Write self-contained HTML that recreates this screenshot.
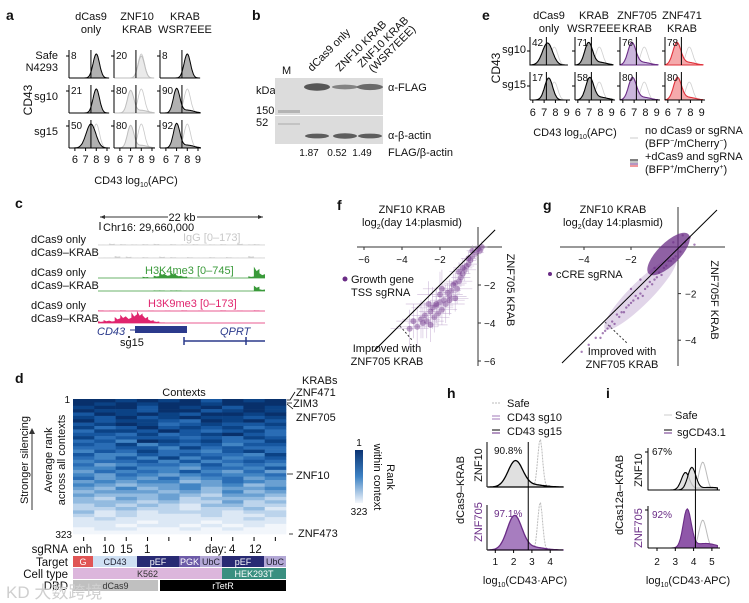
<!DOCTYPE html>
<html><head><meta charset="utf-8"><style>
html,body{margin:0;padding:0;background:#fff}
svg{display:block;font-family:"Liberation Sans","Noto Sans CJK SC",sans-serif}
</style></head><body>
<svg id="fig" width="749" height="603" viewBox="0 0 749 603">
<g font-size="11" fill="#111">
<text x="6" y="20" font-weight="bold" font-size="14">a</text>
<text x="252" y="20" font-weight="bold" font-size="14">b</text>
<text x="482" y="20" font-weight="bold" font-size="14">e</text>
<text x="15" y="208" font-weight="bold" font-size="14">c</text>
<text x="337" y="210" font-weight="bold" font-size="14">f</text>
<text x="543" y="210" font-weight="bold" font-size="14">g</text>
<text x="15" y="383" font-weight="bold" font-size="14">d</text>
<text x="447" y="398" font-weight="bold" font-size="14">h</text>
<text x="606" y="398" font-weight="bold" font-size="14">i</text>

<g text-anchor="middle">
<text x="91" y="20">dCas9</text><text x="91" y="33">only</text>
<text x="137" y="20">ZNF10</text><text x="137" y="33">KRAB</text>
<text x="185" y="20">KRAB</text><text x="185" y="33">WSR7EEE</text>
</g>
<g text-anchor="end">
<text x="58" y="59">Safe</text><text x="58" y="71">N4293</text>
<text x="58" y="100">sg10</text><text x="58" y="135">sg15</text>
</g>
<text transform="translate(32,100) rotate(-90)" text-anchor="middle" font-size="12">CD43</text>
<text x="136" y="184" text-anchor="middle">CD43 log<tspan font-size="7" dy="3">10</tspan><tspan dy="-3">(APC)</tspan></text>
<g id="ga"></g>

<g>
<text transform="translate(312,72) rotate(-45)">dCas9 only</text>
<text transform="translate(340,72) rotate(-45)">ZNF10 KRAB</text>
<text transform="translate(362,68) rotate(-45)">ZNF10 KRAB</text>
<text transform="translate(373,73) rotate(-45)">(WSR7EEE)</text>
<text x="282" y="74">M</text>
<text x="256" y="94">kDa</text><text x="256" y="114">150</text><text x="256" y="126">52</text>
<rect x="275" y="78" width="108" height="37" fill="#dcdcdc"/>
<rect x="275" y="116" width="108" height="28" fill="#dcdcdc"/>
<g id="gbands"></g>
<text x="388" y="91">α-FLAG</text>
<text x="388" y="139">α-β-actin</text>
<text x="388" y="156">FLAG/β-actin</text>
<g id="gratio" text-anchor="middle" font-size="10"></g>
</g>

<g text-anchor="middle">
<text x="549" y="19">dCas9</text><text x="549" y="32">only</text>
<text x="594" y="19">KRAB</text><text x="594" y="32">WSR7EEE</text>
<text x="637" y="19">ZNF705</text><text x="637" y="32">KRAB</text>
<text x="682" y="19">ZNF471</text><text x="682" y="32">KRAB</text>
</g>
<text x="526" y="53" text-anchor="end">sg10</text>
<text x="526" y="88" text-anchor="end">sg15</text>
<text transform="translate(500,68) rotate(-90)" text-anchor="middle" font-size="12">CD43</text>
<text x="575" y="136" text-anchor="middle">CD43 log<tspan font-size="7" dy="3">10</tspan><tspan dy="-3">(APC)</tspan></text>
<g>
<line x1="630" y1="138" x2="638" y2="138" stroke="#ccc"/>
<text x="645" y="134">no dCas9 or sgRNA</text>
<text x="645" y="147">(BFP<tspan font-size="7" dy="-4">−</tspan><tspan dy="4">/mCherry</tspan><tspan font-size="7" dy="-4">−</tspan><tspan dy="4">)</tspan></text>
<line x1="630" y1="160" x2="638" y2="160" stroke="#000"/><line x1="630" y1="162" x2="638" y2="162" stroke="#888"/>
<line x1="630" y1="164" x2="638" y2="164" stroke="#6a2c86"/><line x1="630" y1="166" x2="638" y2="166" stroke="#e0303a"/>
<text x="645" y="160">+dCas9 and sgRNA</text>
<text x="645" y="173">(BFP<tspan font-size="7" dy="-4">+</tspan><tspan dy="4">/mCherry</tspan><tspan font-size="7" dy="-4">+</tspan><tspan dy="4">)</tspan></text>
</g>
<g id="ge"></g>

<g>
<line x1="100" y1="217" x2="168" y2="217" stroke="#333"/><line x1="197" y1="217" x2="263" y2="217" stroke="#333"/>
<path d="M100 217 l5 -2 v4z M263 217 l-5 -2 v4z" fill="#333"/>
<text x="182" y="221" text-anchor="middle">22 kb</text>
<line x1="100" y1="222" x2="100" y2="230" stroke="#000"/>
<text x="103" y="231">Chr16: 29,660,000</text>
<g font-size="11">
<text x="31" y="243">dCas9 only</text><text x="31" y="256">dCas9–KRAB</text>
<text x="31" y="276">dCas9 only</text><text x="31" y="289">dCas9–KRAB</text>
<text x="31" y="309">dCas9 only</text><text x="31" y="322">dCas9–KRAB</text>
</g>
<text x="183" y="241" fill="#c8c8c8">IgG [0–173]</text>
<text x="145" y="274" fill="#3a9a3a">H3K4me3 [0–745]</text>
<text x="148" y="307" fill="#e0256e">H3K9me3 [0–173]</text>
<g id="gtracks"></g>
<text x="97" y="335" font-style="italic" fill="#2b3a8c">CD43</text>
<line x1="130" y1="330" x2="136" y2="330" stroke="#2b3a8c"/>
<rect x="135" y="326" width="52" height="7" fill="#2b3a8c"/>
<text x="120" y="346">sg15</text>
<circle cx="129" cy="337" r="1" fill="#000"/>
<text x="220" y="335" font-style="italic" fill="#2b3a8c">QPRT</text>
<line x1="184" y1="341" x2="265" y2="341" stroke="#2b3a8c" stroke-width="1.5"/>
<line x1="184" y1="337" x2="184" y2="345" stroke="#2b3a8c" stroke-width="1.5"/>
<line x1="246" y1="337" x2="246" y2="345" stroke="#2b3a8c" stroke-width="1.5"/>
</g>

<g text-anchor="middle">
<text x="412" y="213">ZNF10 KRAB</text>
<text x="412" y="226">log<tspan font-size="7" dy="3">2</tspan><tspan dy="-3">(day 14:plasmid)</tspan></text>
</g>
<text transform="translate(507,290) rotate(90)" text-anchor="middle">ZNF705 KRAB</text>
<circle cx="345" cy="279" r="2.5" fill="#6a2c86"/>
<text x="351" y="283">Growth gene</text>
<text x="351" y="296">TSS sgRNA</text>
<text x="387" y="352" text-anchor="middle">Improved with</text>
<text x="387" y="365" text-anchor="middle">ZNF705 KRAB</text>
<line x1="400" y1="326" x2="412" y2="340" stroke="#333" stroke-dasharray="2,2"/>
<g id="gf"></g>

<g text-anchor="middle">
<text x="613" y="213">ZNF10 KRAB</text>
<text x="613" y="226">log<tspan font-size="7" dy="3">2</tspan><tspan dy="-3">(day 14:plasmid)</tspan></text>
</g>
<text transform="translate(711,300) rotate(90)" text-anchor="middle">ZNF705F KRAB</text>
<circle cx="550" cy="274" r="2" fill="#6a2c86"/>
<text x="556" y="278">cCRE sgRNA</text>
<text x="622" y="355" text-anchor="middle">Improved with</text>
<text x="622" y="368" text-anchor="middle">ZNF705 KRAB</text>
<line x1="605" y1="322" x2="627" y2="343" stroke="#333" stroke-dasharray="2,2"/>
<g id="gg"></g>

<text x="184" y="396" text-anchor="middle">Contexts</text>
<text x="70" y="403" text-anchor="end" font-size="10">1</text>
<text x="72" y="538" text-anchor="end" font-size="10">323</text>
<text transform="translate(28,460) rotate(-90)" text-anchor="middle">Stronger silencing</text>
<line x1="32" y1="510" x2="32" y2="432" stroke="#333"/><path d="M32 428 l-3 6 h6z" fill="#333"/>
<text transform="translate(52,460) rotate(-90)" text-anchor="middle">Average rank</text>
<text transform="translate(65,460) rotate(-90)" text-anchor="middle">across all contexts</text>
<g id="gd"></g>
<g font-size="11">
<text x="302" y="384">KRABs</text>
<text x="296" y="396">ZNF471</text><text x="293" y="407">ZIM3</text>
<text x="296" y="421">ZNF705</text><text x="296" y="479">ZNF10</text><text x="298" y="537">ZNF473</text>
<path d="M287 400 L290 400 L295 392 M287 403 L292 403 M287 404 L293 409 M287 474 L293 474 M289 534 L293 534" stroke="#000" fill="none" stroke-width="0.8"/>
</g>
<defs><linearGradient id="cb" x1="0" y1="0" x2="0" y2="1"><stop offset="0" stop-color="#0b3473"/><stop offset="0.5" stop-color="#3d82c4"/><stop offset="1" stop-color="#f3f6fb"/></linearGradient></defs>
<rect x="355" y="450" width="8" height="53" fill="url(#cb)"/>
<text x="359" y="446" text-anchor="middle" font-size="10">1</text>
<text x="359" y="515" text-anchor="middle" font-size="10">323</text>
<text transform="translate(387,477) rotate(90)" text-anchor="middle" font-size="11">Rank</text>
<text transform="translate(374,477) rotate(90)" text-anchor="middle" font-size="11">within context</text>
<g font-size="11.5">
<text x="68" y="553" text-anchor="end">sgRNA</text>
<text x="73" y="553">enh</text><text x="102" y="553">10</text><text x="120" y="553">15</text><text x="144" y="553">1</text>
<text x="205" y="553">day:</text><text x="229" y="553">4</text><text x="249" y="553">12</text>
<text x="68" y="566" text-anchor="end">Target</text>
<text x="68" y="578" text-anchor="end">Cell type</text>
<text x="68" y="590" text-anchor="end">DBD</text>
</g>
<g id="gann" font-size="9" text-anchor="middle"></g>

<g>
<line x1="492" y1="403" x2="500" y2="403" stroke="#bbb" stroke-dasharray="2,1"/>
<text x="507" y="407">Safe</text>
<line x1="492" y1="416" x2="500" y2="416" stroke="#a07ab8"/><line x1="492" y1="419" x2="500" y2="419" stroke="#a07ab8"/>
<text x="507" y="421">CD43 sg10</text>
<line x1="492" y1="430" x2="500" y2="430" stroke="#000"/><line x1="492" y1="433" x2="500" y2="433" stroke="#6a2c86"/>
<text x="507" y="435">CD43 sg15</text>
</g>
<text transform="translate(464,490) rotate(-90)" text-anchor="middle">dCas9–KRAB</text>
<text transform="translate(482,465) rotate(-90)" text-anchor="middle">ZNF10</text>
<text transform="translate(482,522) rotate(-90)" text-anchor="middle" fill="#6a2c86">ZNF705</text>
<text x="494" y="454" font-size="10">90.8%</text>
<text x="494" y="517" font-size="10" fill="#6a2c86">97.1%</text>
<text x="525" y="584" text-anchor="middle">log<tspan font-size="7" dy="3">10</tspan><tspan dy="-3">(CD43·APC)</tspan></text>
<g id="gh"></g>

<g>
<line x1="664" y1="415" x2="672" y2="415" stroke="#ccc"/>
<text x="675" y="419">Safe</text>
<line x1="664" y1="430" x2="672" y2="430" stroke="#000"/><line x1="664" y1="433" x2="672" y2="433" stroke="#6a2c86"/>
<text x="677" y="436">sgCD43.1</text>
</g>
<text transform="translate(623,495) rotate(-90)" text-anchor="middle">dCas12a–KRAB</text>
<text transform="translate(642,470) rotate(-90)" text-anchor="middle">ZNF10</text>
<text transform="translate(642,528) rotate(-90)" text-anchor="middle" fill="#6a2c86">ZNF705</text>
<text x="652" y="455" font-size="10">67%</text>
<text x="652" y="518" font-size="10" fill="#6a2c86">92%</text>
<text x="688" y="584" text-anchor="middle">log<tspan font-size="7" dy="3">10</tspan><tspan dy="-3">(CD43·APC)</tspan></text>
<g id="gi"></g>

<text x="6" y="598" font-size="17" fill="#cfcfcf">KD 大数跨境</text>
</g>
</svg>
<script>
const aPct = [[8,20,8],[21,80,90],[50,80,92]];
const aMean = [[8,8,8],[8,7,7],[7.5,7,7]];
const aTicks = [6,7,8,9];
const bRatios = [1.87,0.52,1.49];
const bFlag = [1.0,0.45,0.75];
const bActin = [0.8,0.9,0.8];
const ePct = [[42,71,76,78],[17,58,80,80]];
const eMean = [[7.3,6.95,6.8,6.8],[7.4,7.05,6.85,6.85]];
const eTicks = [6,7,8,9];
const fx = [0.2,0.1,-0.1,-0.3,0.0,-0.5,-0.4,-0.7,-0.6,-0.9,-1.0,-0.8,-1.2,-1.1,-1.4,-1.3,-1.5,-1.6,-1.8,-1.7,-2.0,-1.9,-2.2,-2.1,-2.4,-2.3,-2.5,-2.6,-2.8,-2.7,-3.0,-2.9,-3.2,-3.4,-1.0,-1.5,-2.0,-2.5,-0.5,-3.6,-1.2,-2.2,-0.3,-0.8,-1.9];
const fy = [0.0,-0.2,-0.3,-0.5,-0.1,-0.9,-0.7,-1.2,-1.0,-1.6,-1.8,-1.4,-1.9,-2.2,-2.3,-2.0,-2.6,-2.4,-2.8,-3.0,-2.9,-3.3,-3.1,-3.5,-3.2,-3.7,-3.4,-3.0,-3.6,-3.9,-3.8,-4.0,-4.2,-3.9,-1.3,-2.8,-2.5,-4.1,-0.6,-4.3,-2.7,-3.0,-0.2,-1.1,-2.2];
const fErr = [0.3,0.2,0.4,0.3,0.2,0.5,0.3,0.6,0.4,0.5,0.7,0.4,0.6,0.8,0.5,0.6,0.9,0.5,0.7,1.0,0.6,0.8,0.9,0.7,1.1,0.8,0.6,1.2,0.7,0.9,1.0,0.8,1.1,0.9,0.5,0.8,1.2,0.9,0.4,1.0,0.7,0.9,0.3,0.5,1.0];
const fXTicks = [-6,-4,-2];
const fYTicks = [-2,-4,-6];
const gx = [0.3,0.1,-0.2,-0.4,-0.6,-0.8,-1.0,-1.2,-1.4,-1.6,-1.8,-2.0,-2.2,-2.4,-2.6,-2.8,-3.0,-3.2,-3.5,-3.8,-4.1,-0.3,-0.7,-1.1,-1.5,-1.9,-2.3,-2.7,-3.1,0.5,0.7,-0.1,-0.5,-0.9,-1.3,-1.7,-2.1,-2.5,-2.9,-3.3,-2.0,-1.0,0.2,-0.2,-1.6];
const gy = [0.2,-0.2,-0.5,-0.6,-0.9,-1.1,-1.4,-1.5,-1.8,-2.0,-2.1,-2.4,-2.6,-2.8,-2.9,-3.2,-3.5,-3.7,-3.9,-4.2,-4.5,-0.6,-1.2,-1.6,-2.1,-2.3,-2.8,-3.3,-3.6,0.4,0.1,-0.4,-0.8,-1.3,-1.7,-2.2,-2.5,-3.0,-3.4,-3.9,-1.8,-0.9,0.5,0.2,-1.4];
const gXTicks = [-4,-2];
const gYTicks = [-2,-4];
const heatRows = [
"0010102010","0101001000","1002010201","0112002101","2010120010","1202101121","0211230102","2101321221",
"1320212132","3112023213","2231321023","1322232312","3240121331","2314232422","3322413233","4231334213",
"2442323341","3424142432","4332424323","3543342434","4424453342","5343424535","4534543443","3545354354",
"5454465345","4565545465","5646546554","6555656465","5666567556","6756576667","6667677576","7676786677",
"7767787768","6878777877","7878887887","8788888878","8889889888","8898898989","9889989899","9999999999"];
const trackIgG1 = [0.1,0.05,0.3,0.1,0.2,0.1,0.15,0.1,0.2,0.1,0.25,0.1,0.1,0.2,0.1,0.15,0.1,0.2,0.1,0.1,0.15,0.1,0.2,0.1,0.1,0.3,0.1,0.15,0.2,0.1];
const trackIgG2 = [0.05,0.1,0.1,0.4,0.1,0.3,0.1,0.1,0.2,0.1,0.1,0.3,0.1,0.2,0.1,0.1,0.2,0.1,0.1,0.1,0.2,0.1,0.1,0.2,0.1,0.1,0.1,0.4,0.1,0.1];
const trackK4a = [0,0,0,0,0,0,0,0,0.2,0.1,0.4,0.9,0.6,1.0,0.5,0.3,0.1,0,0,0,0,0,0,0,0,0,0,0.3,1.9,0.8];
const trackK4b = [0,0,0,0,0,0,0,0,0,0,0.1,0.1,0,0.1,0.1,0,0,0,0,0,0,0,0,0,0,0,0,0,0.9,0.3];
const trackK9a = [0.1,0,0.05,0,0.1,0,0.05,0,0,0.05,0,0,0.05,0,0,0.1,0,0,0.05,0,0,0,0.1,0,0,0.05,0,0,0.1,0];
const trackK9b = [0.3,0.5,0.4,1.0,1.4,1.1,1.8,2.0,1.3,0.6,0.3,0.1,0,0,0,0,0,0,0,0,0,0,0,0,0,0,0,0,0,0];
const hTicks = [1,2,3,4];
const iTicks = [2,3,4,5];

const NS = "http://www.w3.org/2000/svg";
function mk(parent, tag, attrs){const e=document.createElementNS(NS,tag);for(const k in attrs)e.setAttribute(k,attrs[k]);parent.appendChild(e);return e;}
function curve(sx, y0, hpx, mean, sd, xmin, xmax, tail){
  let d=`M${sx(xmin)} ${y0}`;
  for(let v=xmin; v<=xmax+1e-9; v+=(xmax-xmin)/60){
    let g=Math.exp(-0.5*((v-mean)/sd)**2);
    if(tail) g+=tail*Math.exp(-0.5*((v-(mean+1.0))/0.6)**2);
    d+=` L${sx(v).toFixed(1)} ${(y0-g*hpx).toFixed(1)}`;
  }
  return d+` L${sx(xmax)} ${y0}Z`;
}

const ga=document.getElementById('ga');
const aColX=[69,114,160], aRowY=[78,113,148];
for(let c=0;c<3;c++){
  const sx=v=>aColX[c]+(v-5.45)*10.7;
  for(let r=0;r<3;r++){
    const y0=aRowY[r];
    const g=mk(ga,'g',{});
    
    
    mk(g,'path',{d:curve(sx,y0,24,8,0.3,5.45,9.2),fill:'none',stroke:'#c8c8c8','stroke-width':0.8});
    const light=c===1;
    mk(g,'path',{d:curve(sx,y0,light?22:24,aMean[r][c],r===2&&c===0?0.45:0.3,5.45,9.2,r>0&&c>0?0.12:0),fill:light?'#e8e8e8':'#a9a9a9',stroke:light?'#bdbdbd':'#000','stroke-width':1,'fill-opacity':0.9});
    mk(g,'line',{x1:sx(7.5),x2:sx(7.5),y1:y0-28,y2:y0,stroke:'#000','stroke-width':1});
    mk(g,'line',{x1:aColX[c],x2:aColX[c],y1:y0-28,y2:y0,stroke:'#000'});
    mk(g,'line',{x1:aColX[c]-3,x2:aColX[c],y1:y0-22,y2:y0-22,stroke:'#000'});
    const t=mk(g,'text',{x:aColX[c]+2,y:y0-19,'font-size':10});t.textContent=aPct[r][c];
  }
  mk(ga,'line',{x1:aColX[c],x2:aColX[c]+41,y1:148,y2:148,stroke:'#000'});
  aTicks.forEach(v=>{mk(ga,'line',{x1:sx(v),x2:sx(v),y1:148,y2:151,stroke:'#000'});
    const t=mk(ga,'text',{x:sx(v),y:163,'text-anchor':'middle'});t.textContent=v;});
}

const gb=document.getElementById('gbands'), gr=document.getElementById('gratio');
const laneX=[317,345,370];
mk(gb,'rect',{x:278,y:110,width:22,height:3,fill:'#999',opacity:0.6});
mk(gb,'rect',{x:278,y:123,width:22,height:2,fill:'#aaa',opacity:0.5});
laneX.forEach((x,i)=>{
  const b=mk(gb,'ellipse',{cx:x,cy:87,rx:13,ry:2.5*bFlag[i]+1.2,fill:'#333',opacity:0.3+0.5*bFlag[i]});
  
  
  const a=mk(gb,'ellipse',{cx:x,cy:136,rx:12,ry:3*bActin[i],fill:'#333',opacity:0.75});
  
  
  const t=mk(gr,'text',{x:x-8,y:156});t.textContent=bRatios[i].toFixed(2);
});

const ge=document.getElementById('ge');
const eColX=[530,575,620,665], eRowY=[65,100];
const eFill=['#a9a9a9','#a9a9a9','#cbb6dc','#f5a9ab'], eStroke=['#000','#000','#6a2c86','#e0303a'];
for(let c=0;c<4;c++){
  const sx=v=>eColX[c]+(v-5.75)*11.3;
  for(let r=0;r<2;r++){
    const y0=eRowY[r];
    const g=mk(ge,'g',{});
    
    
    mk(g,'path',{d:curve(sx,y0,18,7.9,0.3,5.75,9.1),fill:'none',stroke:'#cfcfcf','stroke-width':0.8});
    mk(g,'path',{d:curve(sx,y0,22,eMean[r][c],c===0&&r===0?0.45:0.35,5.75,9.1,c>0?0.12:0),fill:eFill[c],stroke:eStroke[c],'stroke-width':1.1});
    mk(g,'line',{x1:sx(7.2),x2:sx(7.2),y1:y0-28,y2:y0,stroke:'#000'});
    mk(g,'line',{x1:eColX[c],x2:eColX[c],y1:y0-28,y2:y0,stroke:'#000'});
    mk(g,'line',{x1:eColX[c]-3,x2:eColX[c],y1:y0-14,y2:y0-14,stroke:'#000'});
    const t=mk(g,'text',{x:eColX[c]+2,y:y0-19,'font-size':10});t.textContent=ePct[r][c];
  }
  mk(ge,'line',{x1:eColX[c],x2:eColX[c]+40,y1:100,y2:100,stroke:'#000'});
  eTicks.forEach(v=>{mk(ge,'line',{x1:sx(v),x2:sx(v),y1:100,y2:103,stroke:'#000'});
    const t=mk(ge,'text',{x:sx(v),y:116,'text-anchor':'middle'});t.textContent=v;});
}

const gt=document.getElementById('gtracks');
function track(arr,base,scale,color){
  const w=(265-98)/arr.length;
  let d=`M98 ${base}`;
  arr.forEach((v,i)=>{const x=98+i*w;d+=` L${x} ${base-v*scale} L${x+w*0.5} ${base-v*scale*0.6} L${x+w} ${base-v*scale*0.8}`;});
  d+=` L265 ${base}Z`;
  const p=mk(gt,'path',{d,fill:color,stroke:'none'});
  
  
  mk(gt,'line',{x1:98,x2:265,y1:base,y2:base,stroke:color,'stroke-width':0.8});
}
track(trackIgG1,245,5,'#cfcfcf');track(trackIgG2,258,5,'#cfcfcf');
track(trackK4a,278,6,'#3a9a3a');track(trackK4b,291,6,'#3a9a3a');
track(trackK9a,311,6,'#e0256e');track(trackK9b,323,6,'#e0256e');

const gf=document.getElementById('gf');
const fsx=v=>478+v*19, fsy=v=>247-v*19;
mk(gf,'line',{x1:357,x2:502,y1:247,y2:247,stroke:'#333'});
mk(gf,'line',{x1:478,x2:478,y1:227,y2:366,stroke:'#333'});
fXTicks.forEach(v=>{mk(gf,'line',{x1:fsx(v),x2:fsx(v),y1:247,y2:250,stroke:'#333'});const t=mk(gf,'text',{x:fsx(v),y:263,'text-anchor':'middle','font-size':10});t.textContent='−'+Math.abs(v);});
fYTicks.forEach(v=>{mk(gf,'line',{x1:478,x2:481,y1:fsy(v),y2:fsy(v),stroke:'#333'});const t=mk(gf,'text',{x:484,y:fsy(v)+4,'font-size':10});t.textContent='−'+Math.abs(v);});
fx.forEach((x,i)=>{
  const e=fErr[i];
  mk(gf,'line',{x1:fsx(x-e),x2:fsx(x+e),y1:fsy(fy[i]),y2:fsy(fy[i]),stroke:'#b89cc9','stroke-width':0.7,opacity:0.6});
  mk(gf,'line',{x1:fsx(x),x2:fsx(x),y1:fsy(fy[i]-e),y2:fsy(fy[i]+e),stroke:'#b89cc9','stroke-width':0.7,opacity:0.6});
  const c=mk(gf,'circle',{cx:fsx(x),cy:fsy(fy[i]),r:3,fill:'#6a2c86',opacity:0.45});
  
  
});
mk(gf,'line',{x1:fsx(-5.5),y1:fsy(-5.5),x2:fsx(0.9),y2:fsy(0.9),stroke:'#000'});

const gg=document.getElementById('gg');
const gsx=v=>678+v*23.5, gsy=v=>247-v*23.3;
mk(gg,'line',{x1:560,x2:725,y1:247,y2:247,stroke:'#333'});
mk(gg,'line',{x1:678,x2:678,y1:207,y2:366,stroke:'#333'});
gXTicks.forEach(v=>{mk(gg,'line',{x1:gsx(v),x2:gsx(v),y1:247,y2:250,stroke:'#333'});const t=mk(gg,'text',{x:gsx(v),y:263,'text-anchor':'middle','font-size':10});t.textContent='−'+Math.abs(v);});
gYTicks.forEach(v=>{mk(gg,'line',{x1:678,x2:681,y1:gsy(v),y2:gsy(v),stroke:'#333'});const t=mk(gg,'text',{x:685,y:gsy(v)+4,'font-size':10});t.textContent='−'+Math.abs(v);});
mk(gg,'ellipse',{cx:gsx(-1.6),cy:gsy(-2.0),rx:50,ry:11,fill:'#a886c0',opacity:0.35,transform:`rotate(-45 ${gsx(-1.6)} ${gsy(-2.0)})`});
mk(gg,'ellipse',{cx:gsx(-0.4),cy:gsy(-0.3),rx:28,ry:11,fill:'#6a2c86',opacity:0.75,transform:`rotate(-45 ${gsx(-0.4)} ${gsy(-0.3)})`});
gx.forEach((x,i)=>{
  const c=mk(gg,'circle',{cx:gsx(x),cy:gsy(gy[i]),r:1.2,fill:'#6a2c86',opacity:0.6});
  
  
});
mk(gg,'line',{x1:562,y1:363,x2:717,y2:210,stroke:'#000'});

const gd=document.getElementById('gd');
const hx0=73,hx1=286,hy0=399,hy1=534;
const cw=(hx1-hx0)/10, rh=(hy1-hy0)/heatRows.length;
const pal=['#08306b','#0b4285','#1757a0','#2a6db5','#4285c4','#6aa0d2','#93bbe0','#bcd4ec','#dce8f5','#f2f6fb'];
heatRows.forEach((row,r)=>{for(let c=0;c<10;c++){
  const cell=mk(gd,'rect',{x:hx0+c*cw,y:hy0+r*rh,width:cw+0.3,height:rh+0.3,fill:pal[+row[c]]});
  
  
}});
for(let c=0;c<10;c++) mk(gd,'line',{x1:hx0+(c+0.5)*cw,x2:hx0+(c+0.5)*cw,y1:537,y2:541,stroke:'#000'});
const gann=document.getElementById('gann');
const ann=[
 [556,[[73,93,'#e05555','G','#fff'],[93,137,'#cfe0f3','CD43','#223'],[137,179,'#282a73','pEF','#fff'],[179,200,'#6d5ba8','PGK','#fff'],[200,222,'#b3a8d6','UbC','#223'],[222,264,'#282a73','pEF','#fff'],[264,286,'#b3a8d6','UbC','#223']]],
 [568,[[73,222,'#dcb6dc','K562','#333'],[222,286,'#3a8f80','HEK293T','#fff']]],
 [580,[[73,158,'#c0c0c0','dCas9','#333'],[160,286,'#000','rTetR','#fff']]]];
ann.forEach(([y,segs])=>segs.forEach(([a,b,col,lab,tc])=>{
  const r=mk(gann,'rect',{x:a,y:y,width:b-a,height:11,fill:col});
  
  
  const t=mk(gann,'text',{x:(a+b)/2,y:y+9,fill:tc});t.textContent=lab;
}));

const gh=document.getElementById('gh');
const hsx=v=>477+v*18.3;
[[487,'#000','#e0e0e0',2.1],[550,'#6a2c86','#a77dbf',2.05]].forEach(([y0,st,fl,m],k)=>{
  mk(gh,'path',{d:curve(hsx,y0,48,3.45,0.13,0.6,4.7),fill:'none',stroke:'#bbb','stroke-dasharray':'2,1'});
  mk(gh,'path',{d:curve(hsx,y0,k?34:26,m,0.4,0.6,4.7,0.08),fill:fl,stroke:st,'stroke-width':1.3});
  mk(gh,'line',{x1:487,x2:487,y1:y0-45,y2:y0,stroke:'#000'});
  mk(gh,'line',{x1:487,x2:563,y1:y0,y2:y0,stroke:'#000'});
});
mk(gh,'line',{x1:hsx(2.8),x2:hsx(2.8),y1:442,y2:550,stroke:'#000'});
hTicks.forEach(v=>{mk(gh,'line',{x1:hsx(v),x2:hsx(v),y1:550,y2:553,stroke:'#000'});const t=mk(gh,'text',{x:hsx(v),y:565,'text-anchor':'middle','font-size':10});t.textContent=v;});

const gi=document.getElementById('gi');
const isx=v=>657+(v-2)*18.3;
[[490,'#000','#ddd',[3.55,3.9]],[548,'#6a2c86','#7b3a9a',[3.65]]].forEach(([y0,st,fl,ms],k)=>{
  mk(gi,'path',{d:curve(isx,y0,28,4.5,0.2,1.5,5.3),fill:'none',stroke:'#bbb'});
  ms.forEach((m,j)=>mk(gi,'path',{d:curve(isx,y0,k?38:(j?22:17),m,0.22,1.5,5.3,0.12),fill:fl,'fill-opacity':0.85,stroke:st,'stroke-width':1.1}));
  mk(gi,'line',{x1:648,x2:648,y1:y0-42,y2:y0,stroke:'#000'});
  mk(gi,'line',{x1:645,x2:648,y1:y0-38,y2:y0-38,stroke:'#000'});
  mk(gi,'line',{x1:648,x2:720,y1:y0,y2:y0,stroke:'#000'});
});
mk(gi,'line',{x1:isx(4.1),x2:isx(4.1),y1:448,y2:548,stroke:'#000'});
iTicks.forEach(v=>{mk(gi,'line',{x1:isx(v),x2:isx(v),y1:548,y2:551,stroke:'#000'});const t=mk(gi,'text',{x:isx(v),y:565,'text-anchor':'middle','font-size':10});t.textContent=v;});
</script>
</body></html>
